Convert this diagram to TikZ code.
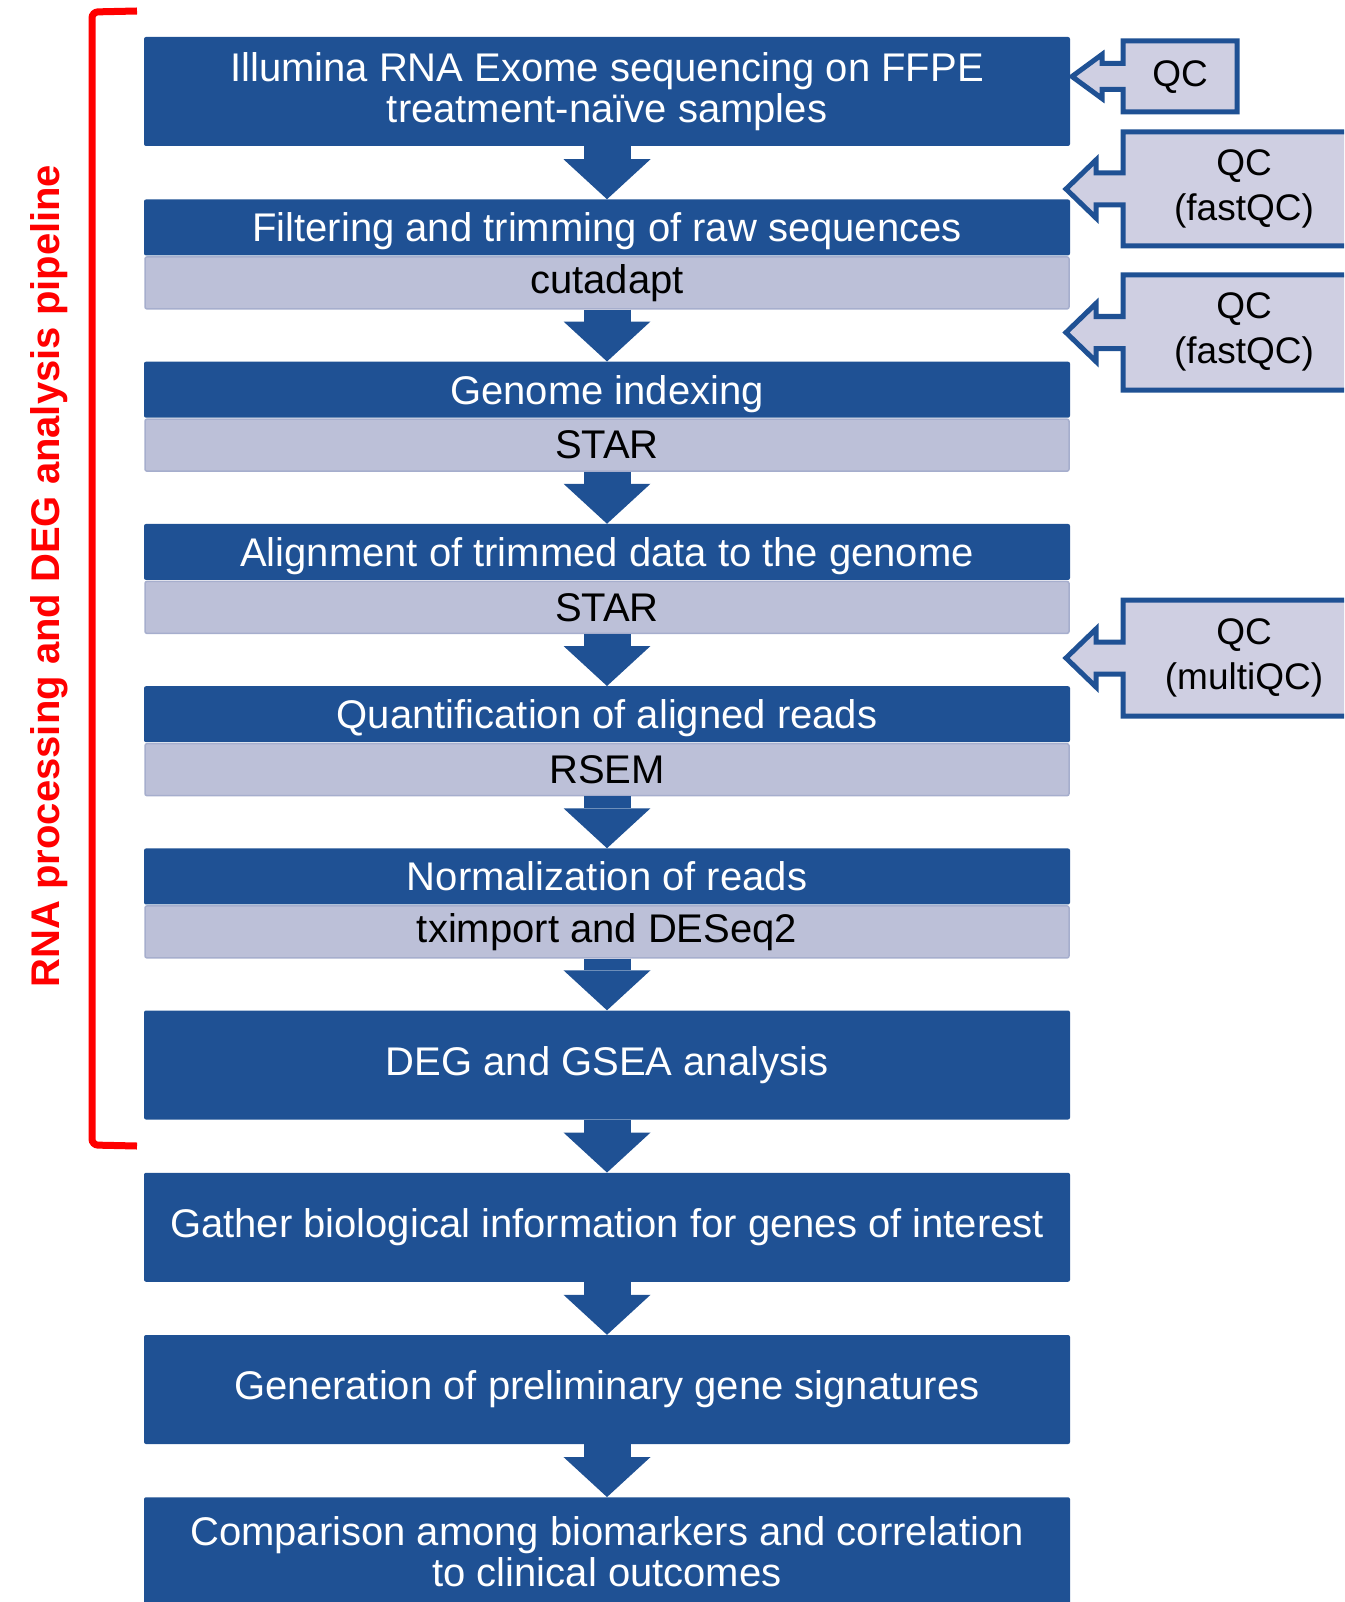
\documentclass[tikz,border=0pt]{standalone}
\usepackage{fontspec}
\setmainfont{Liberation Sans}
\usetikzlibrary{arrows.meta}
\definecolor{flowblue}{RGB}{31,81,148}
\definecolor{toolfill}{RGB}{188,192,216}
\definecolor{toolline}{RGB}{166,174,205}
\definecolor{qcfill}{RGB}{207,207,226}

\begin{document}
\begin{tikzpicture}[x=1pt, y=-1pt, font=\fontsize{40}{41}\selectfont,
    stage/.style={fill=flowblue, text=white, minimum width=926pt, inner sep=0pt, align=center, rounded corners=2pt},
    tool/.style={fill=toolfill, draw=toolline, line width=1.5pt, minimum width=924pt, minimum height=52pt, inner sep=0pt, rounded corners=2pt},
    flow/.style={draw=flowblue, line width=47pt, -{Triangle[width=87pt, length=40pt, line width=0pt]}},
    qcshape/.style={fill=qcfill, draw=flowblue, line width=5pt, line join=miter},
    qctext/.style={align=center, font=\fontsize{37}{45}\selectfont}]
    \useasboundingbox (0,0) rectangle (1344,1602);
    \clip (0,0) rectangle (1344,1602);

    % Bracket and label of the pipeline
    \draw[red, line width=7pt, rounded corners=6pt] (137,11) -- (92,12) -- (92,1145) -- (137,1146);
    \node[rotate=90, text=red, font=\fontsize{40}{44}\selectfont\bfseries] (pipe) at (49,576) {RNA processing and DEG analysis pipeline};

    % First stage
    \node[stage, minimum height=109pt] (s1) at (607,91.5) {Illumina RNA Exome sequencing on FFPE\\treatment-naïve samples};

    % Stages with a tool row
    \foreach \n/\y/\task/\prog in {2/199.25/Filtering and trimming of raw sequences/cutadapt,
                                   3/361.5/Genome indexing/STAR,
                                   4/523.75/Alignment of trimmed data to the genome/STAR,
                                   5/686/Quantification of aligned reads/RSEM,
                                   6/848.25/Normalization of reads/tximport and DESeq2} {
        \node[stage, minimum height=56pt, text height=31pt, text depth=2pt, anchor=north] (s\n) at (607,\y) {\task};
        \node[tool, anchor=north] (t\n) at ([yshift=-0.5pt]s\n.south) {\prog};
    }

    % Later stages
    \node[stage, minimum height=109pt] (s7) at (607,1065) {DEG and GSEA analysis};
    \node[stage, minimum height=109pt] (s8) at (607,1227.25) {Gather biological information for genes of interest};
    \node[stage, minimum height=109pt] (s9) at (607,1389.5) {Generation of preliminary gene signatures};
    \node[stage, minimum height=109pt] (s10) at (607,1551.75) {Comparison among biomarkers and correlation\\to clinical outcomes};

    % Arrows
    \foreach \a/\b in {s1/s2, t2/s3, t3/s4, t4/s5, t5/s6, t6/s7, s7/s8, s8/s9, s9/s10} {
        \draw[flow] (\a.south) -- (\b.north);
    }

    % QC callouts
    \foreach \tip/\xr/\yt/\yb/\h/\s in {1072/1237/41/112/22/13, 1066/1365/132/246/29/16,
                                        1066/1365/275/390/29/16, 1066/1365/600/716/29/16} {
        \pgfmathsetmacro\ym{(\yt+\yb)/2}
        \filldraw[qcshape] (1123,\yt) -- (\xr,\yt) -- (\xr,\yb) -- (1123,\yb) -- (1123,\ym+\s)
            -- (\tip+30,\ym+\s) -- (\tip+30,\ym+\h) -- (\tip,\ym) -- (\tip+30,\ym-\h)
            -- (\tip+30,\ym-\s) -- (1123,\ym-\s) -- cycle;
    }
    \node[font=\fontsize{37}{45}\selectfont] (q1) at (1180,77) {QC};
    \node[qctext] (q2) at (1244,189) {QC\\(fastQC)};
    \node[qctext] (q3) at (1244,332) {QC\\(fastQC)};
    \node[qctext] (q4) at (1244,658) {QC\\(multiQC)};
\end{tikzpicture}
\end{document}
